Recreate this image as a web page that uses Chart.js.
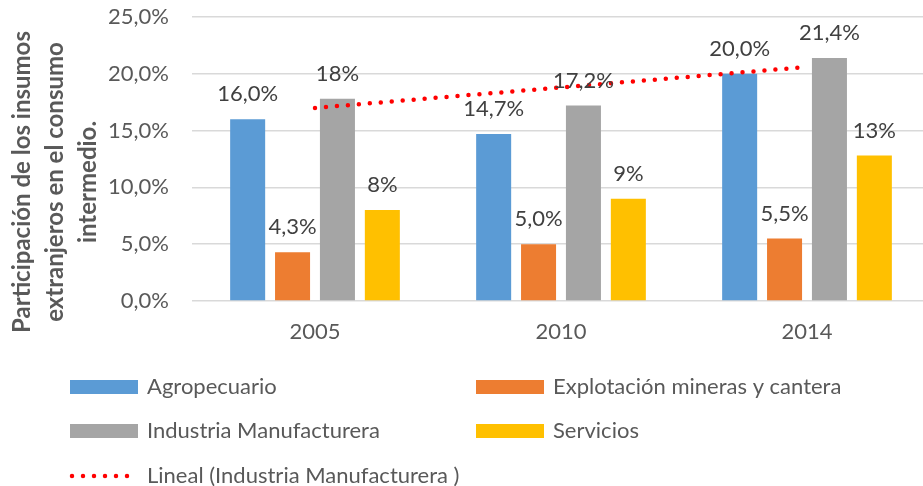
<!DOCTYPE html>
<html>
<head>
<meta charset="utf-8">
<script src="https://cdn.jsdelivr.net/npm/chart.js@4.4.1/dist/chart.umd.min.js"></script>
<style>
  html, body { margin: 0; padding: 0; overflow: hidden; background: #fff; }
  #wrap { width: 930px; height: 486px; }
</style>
</head>
<body>
<div id="wrap"><canvas id="chart"></canvas></div>
<script>
// datos
const years = ['2005', '2010', '2014'];
const agro = [16.0, 14.7, 20.0];
const mineria = [4.3, 5.0, 5.5];
const industria = [17.8, 17.2, 21.4];
const servicios = [8.0, 9.0, 12.8];
const tendencia = [17.0, 18.8, 20.6]; // lineal (industria)
const agroLabels = ['16,0%', '14,7%', '20,0%'];
const mineriaLabels = ['4,3%', '5,0%', '5,5%'];
const industriaLabels = ['18%', '17,2%', '21,4%'];
const serviciosLabels = ['8%', '9%', '13%'];
const yTicks = [0, 5, 10, 15, 20, 25];
const yTitle = ['Participación de los insumos', 'extranjeros en el consumo', 'intermedio.'];

const FONT = 'Lato';
const TXT = '#595959';

// etiquetas encima de las barras
const barLabels = {
  id: 'barLabels',
  afterDatasetsDraw(chart) {
    const ctx = chart.ctx;
    ctx.save();
    ctx.font = '22px ' + FONT;
    ctx.fillStyle = '#404040';
    ctx.textAlign = 'center';
    ctx.textBaseline = 'middle';
    chart.data.datasets.forEach((ds, i) => {
      if (!ds.valueLabels) return;
      chart.getDatasetMeta(i).data.forEach((bar, j) => {
        ctx.fillText(ds.valueLabels[j], bar.x, bar.y - 25);
      });
    });
    ctx.restore();
  }
};

// titulo del eje y en tres lineas
const yTitlePlugin = {
  id: 'yTitlePlugin',
  afterDraw(chart) {
    const ctx = chart.ctx;
    ctx.save();
    ctx.font = 'bold 24px ' + FONT;
    ctx.fillStyle = TXT;
    ctx.textAlign = 'center';
    ctx.textBaseline = 'middle';
    yTitle.forEach((line, i) => {
      ctx.save();
      ctx.translate(22 + i * 33, 182);
      ctx.rotate(-Math.PI / 2);
      ctx.fillText(line, 0, 0);
      ctx.restore();
    });
    ctx.restore();
  }
};

// leyenda en dos columnas
const legendPlugin = {
  id: 'legendPlugin',
  afterDraw(chart) {
    const ctx = chart.ctx;
    const cols = [70, 476];
    const rows = [387, 431, 476];
    ctx.save();
    ctx.font = '22px ' + FONT;
    ctx.textBaseline = 'middle';
    ctx.textAlign = 'left';
    chart.data.datasets.forEach((ds, i) => {
      const x = cols[i % 2];
      const y = rows[Math.floor(i / 2)];
      if (ds.type === 'line') {
        ctx.strokeStyle = ds.borderColor;
        ctx.lineWidth = ds.borderWidth;
        ctx.lineCap = 'round';
        ctx.setLineDash(ds.borderDash);
        ctx.beginPath();
        ctx.moveTo(x + 2, y);
        ctx.lineTo(x + 68, y);
        ctx.stroke();
        ctx.setLineDash([]);
      } else {
        ctx.fillStyle = ds.backgroundColor;
        ctx.fillRect(x, y - 7, 68, 14);
      }
      ctx.fillStyle = TXT;
      ctx.fillText(ds.label, x + 77, y);
    });
    ctx.restore();
  }
};

new Chart(document.getElementById('chart'), {
  type: 'bar',
  data: {
    labels: years,
    datasets: [
      { label: 'Agropecuario', data: agro, valueLabels: agroLabels, backgroundColor: '#5B9BD5', order: 1 },
      { label: 'Explotación mineras y cantera', data: mineria, valueLabels: mineriaLabels, backgroundColor: '#ED7D31', order: 1 },
      { label: 'Industria Manufacturera', data: industria, valueLabels: industriaLabels, backgroundColor: '#A5A5A5', order: 1 },
      { label: 'Servicios', data: servicios, valueLabels: serviciosLabels, backgroundColor: '#FFC000', order: 1 },
      {
        type: 'line', label: 'Lineal (Industria Manufacturera )', data: tendencia,
        borderColor: '#FF0000', borderWidth: 4.5, borderDash: [0, 11], borderCapStyle: 'round',
        pointRadius: 0, fill: false, order: 0
      }
    ]
  },
  options: {
    responsive: true,
    maintainAspectRatio: false,
    animation: false,
    layout: { padding: { top: 17, right: 0, bottom: 0, left: 0 } },
    datasets: {
      bar: { barPercentage: 0.78, categoryPercentage: 0.73 }
    },
    plugins: {
      legend: { display: false },
      tooltip: { enabled: false }
    },
    scales: {
      x: {
        grid: { display: false },
        border: { display: false },
        ticks: { color: TXT, font: { family: FONT, size: 22 }, padding: 10 },
        afterFit(scale) { scale.height = 185; }
      },
      y: {
        min: 0,
        max: 25,
        afterBuildTicks(axis) { axis.ticks = yTicks.map(v => ({ value: v })); },
        grid: { color: '#D9D9D9', lineWidth: 1.5, drawTicks: false },
        border: { display: false },
        ticks: {
          color: TXT,
          font: { family: FONT, size: 22 },
          padding: 23,
          callback: v => v.toFixed(1).replace('.', ',') + '%'
        },
        afterFit(scale) {
          scale.width = 192;
          scale.paddingTop = 0;
          scale.paddingBottom = 0;
        }
      }
    }
  },
  plugins: [barLabels, yTitlePlugin, legendPlugin]
});
</script>
</body>
</html>
